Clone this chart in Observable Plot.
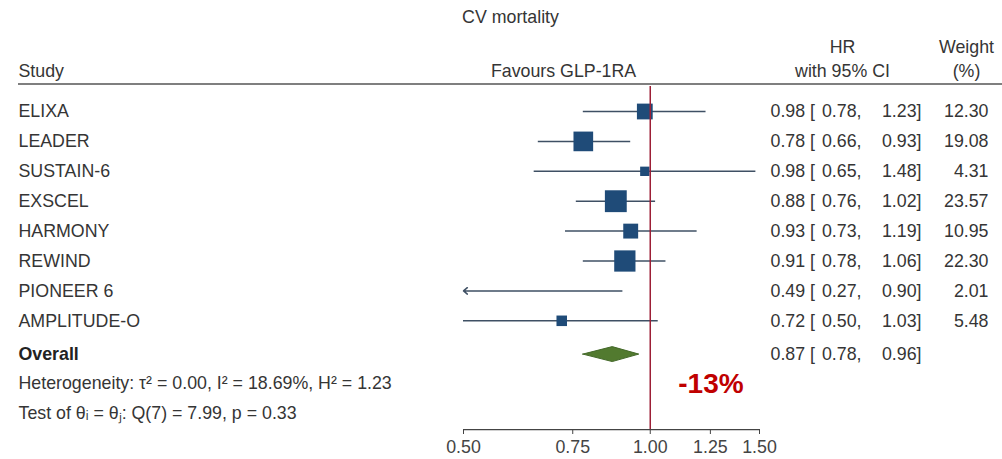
<!DOCTYPE html>
<html>
<head>
<meta charset="utf-8">
<script src="https://cdn.jsdelivr.net/npm/d3@7"></script>
<script src="https://cdn.jsdelivr.net/npm/@observablehq/plot@0.6"></script>
<style>
  html, body { margin: 0; padding: 0; background: #fff; }
  #chart svg { display: block; }
</style>
</head>
<body>
<div id="chart"></div>
<script>
// CV mortality: GLP-1 receptor agonist trials, hazard ratios with 95% CI
const studies  = ["ELIXA", "LEADER", "SUSTAIN-6", "EXSCEL", "HARMONY", "REWIND", "PIONEER 6", "AMPLITUDE-O"];
const hazard   = [0.98, 0.78, 0.98, 0.88, 0.93, 0.91, 0.49, 0.72];
const ciLow    = [0.78, 0.66, 0.65, 0.76, 0.73, 0.78, 0.27, 0.50];
const ciHigh   = [1.23, 0.93, 1.48, 1.02, 1.19, 1.06, 0.90, 1.03];
const weights  = [12.30, 19.08, 4.31, 23.57, 10.95, 22.30, 2.01, 5.48];

const overallHR = 0.87;
const overallLow = 0.78;
const overallHigh = 0.96;

const xTicks = [0.50, 0.75, 1.00, 1.25, 1.50];

const title = "CV mortality";
const heterogeneityText = "Heterogeneity: \u03C4\u00B2 = 0.00, I\u00B2 = 18.69%, H\u00B2 = 1.23";
const testText = "Test of \u03B8\u1D62 = \u03B8\u2C7C: Q(7) = 7.99, p = 0.33";

// Layout: vertical positions in row units (row 0 = first study)
const ROW_TITLE = -3.14, ROW_HEAD1 = -2.14, ROW_HEAD2 = -1.34, ROW_RULE = -0.92;
const ROW_REF_TOP = -0.84, ROW_OVERALL = 8.13, ROW_HET = 9.1, ROW_TEST = 10.1, ROW_AXIS = 10.64;
const DIAMOND_HALF = 0.25;

const fmt = d3.format(".2f");
const xMin = xTicks[0], xMax = xTicks[xTicks.length - 1];

const rows = studies.map((name, i) => ({
  name, row: i, hr: hazard[i], lo: ciLow[i], hi: ciHigh[i], w: weights[i]
}));
const inRange = rows.filter(d => d.lo >= xMin);
const clipped = rows.filter(d => d.lo < xMin);
const onScale = rows.filter(d => d.hr >= xMin);

const overall = {name: "Overall", row: ROW_OVERALL, hr: overallHR, lo: overallLow, hi: overallHigh};
const diamond = [
  {x: overall.lo, y1: ROW_OVERALL, y2: ROW_OVERALL},
  {x: overall.hr, y1: ROW_OVERALL - DIAMOND_HALF, y2: ROW_OVERALL + DIAMOND_HALF},
  {x: overall.hi, y1: ROW_OVERALL, y2: ROW_OVERALL}
];
const ciRows = [...rows, overall];

const headers = [
  {t: title, row: ROW_TITLE, at: 510},
  {t: "Study", row: ROW_HEAD2, at: 18, anchor: "start"},
  {t: "Favours GLP-1RA", row: ROW_HEAD2, at: 563},
  {t: "HR", row: ROW_HEAD1, at: 842},
  {t: "with 95% CI", row: ROW_HEAD2, at: 842},
  {t: "Weight", row: ROW_HEAD1, at: 966},
  {t: "(%)", row: ROW_HEAD2, at: 966}
];

const textColor = "#353535";
const ciColor = "#3f5064";
const fontFamily = "'Liberation Sans', Arial, Helvetica, sans-serif";

const chart = Plot.plot({
  width: 1002,
  height: 459,
  marginLeft: 0,
  marginRight: 0,
  marginTop: 0,
  marginBottom: 30,
  style: {fontFamily, fontSize: "17.8px", color: textColor, background: "#fff"},
  x: {type: "log", domain: [xMin, xMax], range: [463, 759]},
  y: {domain: [0, 10], range: [111, 410], axis: null},
  r: {type: "sqrt", domain: [0, 25], range: [0, 12.7]},
  marks: [
    // column headers and rule under them
    ...headers.map(h => Plot.text([h], {
      y: "row", text: "t", frameAnchor: "left", dx: h.at,
      textAnchor: h.anchor || "middle", fill: textColor
    })),
    Plot.ruleY([ROW_RULE], {insetLeft: 18, stroke: "#555", strokeWidth: 1.6}),

    // study labels and summary lines
    Plot.text(rows, {y: "row", text: "name", frameAnchor: "left", dx: 18, textAnchor: "start", fill: textColor}),
    Plot.text([overall], {y: "row", text: "name", frameAnchor: "left", dx: 18, textAnchor: "start", fontWeight: "bold", fill: "#222"}),
    Plot.text([heterogeneityText], {y: ROW_HET, text: d => d, frameAnchor: "left", dx: 18, textAnchor: "start", fill: textColor}),
    Plot.text([testText], {y: ROW_TEST, text: d => d, frameAnchor: "left", dx: 18, textAnchor: "start", fill: textColor}),

    // confidence intervals; those running past the axis end in an arrow
    Plot.ruleY(inRange, {y: "row", x1: "lo", x2: "hi", stroke: ciColor, strokeWidth: 1.5}),
    Plot.arrow(clipped, {
      y1: "row", y2: "row", x1: "hi", x2: () => xMin,
      stroke: ciColor, strokeWidth: 1.5, headLength: 5, headAngle: 80
    }),

    // study estimates, square area proportional to weight
    Plot.dot(onScale, {x: "hr", y: "row", r: "w", symbol: "square", fill: "#1f4b78", stroke: "none"}),

    // pooled estimate
    Plot.areaY(diamond, {x: "x", y1: "y1", y2: "y2", fill: "#527a2f", stroke: "#44692a", strokeWidth: 1}),

    // line of no effect
    Plot.ruleX([1], {y1: ROW_REF_TOP, y2: ROW_AXIS, stroke: "#9c1f36", strokeWidth: 1.5}),

    // HR [95% CI] and weight columns
    Plot.text(ciRows, {y: "row", text: d => `${fmt(d.hr)} [`, frameAnchor: "left", dx: 770, textAnchor: "start", fill: textColor}),
    Plot.text(ciRows, {y: "row", text: d => `${fmt(d.lo)},`, frameAnchor: "left", dx: 861, textAnchor: "end", fill: textColor}),
    Plot.text(ciRows, {y: "row", text: d => `${fmt(d.hi)}]`, frameAnchor: "left", dx: 921, textAnchor: "end", fill: textColor}),
    Plot.text(rows, {y: "row", text: d => fmt(d.w), frameAnchor: "left", dx: 988, textAnchor: "end", fill: textColor}),

    // relative reduction of the pooled estimate
    Plot.text([overall], {
      x: 1, y: ROW_HET, text: d => `${Math.round((d.hr - 1) * 100)}%`,
      dx: 28, textAnchor: "start", fontSize: 28, fontWeight: "bold", fill: "#c00000"
    }),

    // x axis
    Plot.ruleY([ROW_AXIS], {x1: xMin, x2: xMax, stroke: "#444", strokeWidth: 1.4}),
    Plot.axisX({
      anchor: "bottom", ticks: xTicks, tickFormat: fmt, tickSize: 5, tickPadding: 6,
      fontSize: 17.8, color: "#444", label: null
    })
  ]
});

document.getElementById("chart").appendChild(chart);
</script>
</body>
</html>
